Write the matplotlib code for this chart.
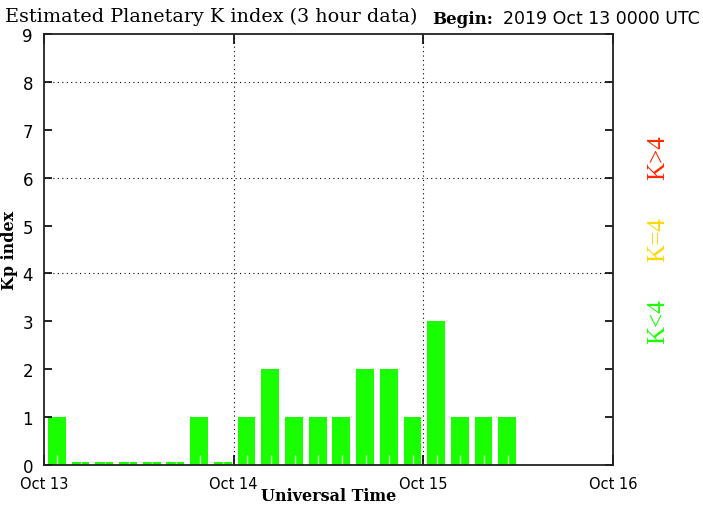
import matplotlib
matplotlib.use("Agg")
import matplotlib.pyplot as plt
import numpy as np

# Data: 3-hour Kp values starting 2019 Oct 13 00 UTC (0 drawn as a small stub)
kp_values = [1, 0, 0, 0, 0, 0, 1, 0,
             1, 2, 1, 1, 1, 2, 2, 1,
             3, 1, 1, 1]
day_labels = ["Oct 13", "Oct 14", "Oct 15", "Oct 16"]
y_ticks = list(range(0, 10))

hours = np.arange(len(kp_values)) * 3
heights = [v if v > 0 else 0.07 for v in kp_values]

fig = plt.figure(figsize=(7.03, 5.06), dpi=100)
ax = fig.add_axes([44/703, 1-466/506, (613-44)/703, (466-35)/506])
ax.set_axisbelow(False)

ax.bar(hours + 0.5, heights, width=2.25, align='edge', color='#1aff00', zorder=2)

ax.set_xlim(0, 72)
ax.set_ylim(0, 9)

# grid
for y in [4, 6, 8]:
    ax.axhline(y, color='black', lw=0.8, ls=(0, (1, 3)), zorder=1)
for x in [24, 48]:
    ax.axvline(x, color='black', lw=0.8, ls=(0, (1, 3)), zorder=1)

ax.set_xticks([0, 24, 48, 72])
ax.set_xticklabels(day_labels, fontsize=10.5, family='DejaVu Sans')
ax.set_xticks(hours + 1.7, minor=True)
ax.tick_params(axis='x', which='minor', direction='in', length=7, color=(1, 1, 1, 0.75),
               width=1, top=False)
ax.tick_params(axis='x', which='major', direction='in', length=7, top=True, width=1.2,
               pad=8)
ax.set_yticks(y_ticks)
ax.set_yticklabels([str(v) for v in y_ticks], fontsize=12, family='DejaVu Sans')
ax.tick_params(axis='y', direction='in', length=6, right=True, width=1.2, pad=8)
for sp in ax.spines.values():
    sp.set_linewidth(1.3)
    sp.set_color('#222222')
    sp.set_zorder(4)

fig.text(329/703, 1-497/506, "Universal Time", fontsize=11.5, family='DejaVu Serif',
         fontweight='bold', ha='center', va='center')
fig.text(9/703, 1-250/506, "Kp index", fontsize=11.5, family='DejaVu Serif',
         fontweight='bold', rotation=90, ha='center', va='center')

fig.text(5/703, 1-17/506, "Estimated Planetary K index (3 hour data)", fontsize=13.8,
         family='DejaVu Serif', va='center', ha='left')
fig.text(432/703, 1-19/506, "Begin:", fontsize=12, family='DejaVu Serif',
         fontweight='bold', va='center', ha='left')
fig.text(700/703, 1-19/506, "2019 Oct 13 0000 UTC", fontsize=12.5,
         family='DejaVu Sans', va='center', ha='right')

fig.text(658/703, 1-322/506, "K<4", color='#1aff00', rotation=90, fontsize=18,
         family='Liberation Serif', ha='center', va='center')
fig.text(658/703, 1-240/506, "K=4", color='#ffd700', rotation=90, fontsize=18,
         family='Liberation Serif', ha='center', va='center')
fig.text(658/703, 1-158/506, "K>4", color='#ff2a00', rotation=90, fontsize=18,
         family='Liberation Serif', ha='center', va='center')

fig.savefig("out.png", dpi=100)
